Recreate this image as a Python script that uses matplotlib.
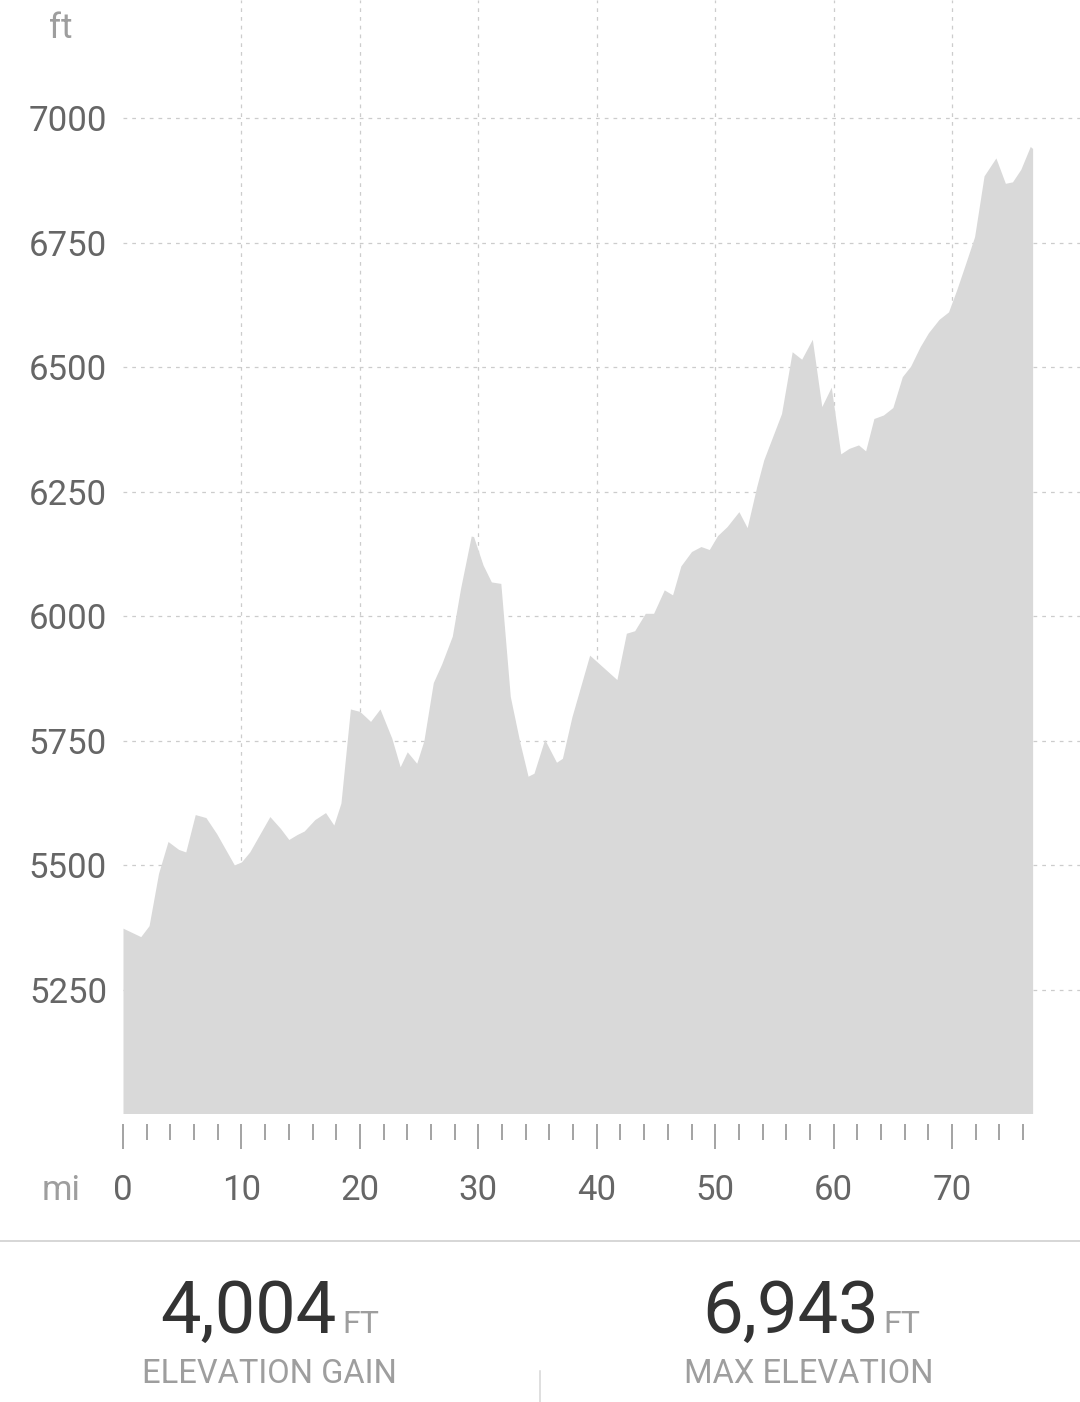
import matplotlib
matplotlib.use("Agg")
import matplotlib.pyplot as plt
from matplotlib.ticker import FixedLocator, NullFormatter

plt.rcParams['font.family'] = ['Roboto', 'DejaVu Sans']

miles = [0, 1.5, 2.2, 3.0, 3.8, 4.7, 5.3, 6.1, 7.0, 7.9, 9.4, 10.0, 10.7, 12.4, 13.3,
         14.0, 14.7, 15.3, 16.2, 17.1, 17.8, 18.4, 19.2, 20.0, 20.9, 21.7, 22.7, 23.4,
         24.0, 24.8, 25.4, 26.2, 26.9, 27.8, 28.5, 29.4, 29.6, 30.4, 31.1, 31.9, 32.7,
         33.5, 34.2, 34.7, 35.6, 36.6, 37.1, 37.9, 39.4, 41.7, 42.5, 43.2, 44.1, 44.8,
         45.7, 46.4, 47.1, 48.0, 48.8, 49.5, 50.2, 51.0, 52.0, 52.7, 53.5, 54.1, 55.6,
         56.5, 57.3, 58.2, 59.0, 59.8, 60.6, 61.3, 62.1, 62.7, 63.4, 64.2, 65.0, 65.8,
         66.5, 67.3, 68.0, 68.9, 69.7, 70.4, 71.1, 71.9, 72.7, 73.7, 74.5, 75.1, 75.8,
         76.6, 76.8]
elevation_ft = [5374, 5357, 5379, 5484, 5548, 5532, 5527, 5602, 5596, 5564, 5501, 5507,
                5527, 5598, 5574, 5552, 5562, 5569, 5592, 5606, 5581, 5625, 5814, 5809,
                5789, 5814, 5755, 5698, 5728, 5705, 5750, 5867, 5904, 5960, 6056, 6161,
                6160, 6103, 6069, 6066, 5839, 5748, 5679, 5685, 5753, 5707, 5715, 5798,
                5922, 5873, 5966, 5971, 6006, 6006, 6053, 6043, 6101, 6130, 6140, 6134,
                6162, 6180, 6210, 6178, 6260, 6314, 6407, 6531, 6516, 6556, 6421, 6460,
                6326, 6337, 6344, 6332, 6397, 6404, 6419, 6481, 6502, 6541, 6569, 6596,
                6611, 6656, 6705, 6762, 6884, 6920, 6869, 6872, 6897, 6943, 6939]

y_ticks = [5250, 5500, 5750, 6000, 6250, 6500, 6750, 7000]
x_major = [0, 10, 20, 30, 40, 50, 60, 70]
x_minor = [2, 4, 6, 8, 12, 14, 16, 18, 22, 24, 26, 28, 32, 34, 36, 38, 42, 44, 46, 48,
           52, 54, 56, 58, 62, 64, 66, 68, 72, 74, 76]

stat_gain = "4,004"
stat_max = "6,943"
stat_unit = "FT"
stat_gain_label = "ELEVATION GAIN"
stat_max_label = "MAX ELEVATION"

W, H = 1080, 1402
fig = plt.figure(figsize=(W / 100, H / 100), dpi=100)

def fx(px):
    return px / W

def fy(py):
    return 1 - py / H

ax = fig.add_axes([fx(123), fy(1113.5), 1 - fx(123), fy(0) - fy(1113.5)])
ax.set_xlim(0, 80.8)
ax.set_ylim(5002, 7237)

grid_kw = dict(color='#cccccc', lw=0.9, ls=(0, (3, 4)), zorder=1)
for v in x_major[1:]:
    ax.axvline(v, **grid_kw)
for v in y_ticks:
    ax.axhline(v, **grid_kw)

ax.fill_between(miles, elevation_ft, 5002, color='#d9d9d9', lw=0, zorder=2)

for s in ax.spines.values():
    s.set_visible(False)
ax.spines['bottom'].set_position(('outward', 7.2))

ax.yaxis.set_major_locator(FixedLocator(y_ticks))
ax.tick_params(axis='y', length=0, pad=11.5, labelsize=25, labelcolor='#666666')

ax.xaxis.set_major_locator(FixedLocator(x_major))
ax.xaxis.set_minor_locator(FixedLocator(x_minor))
ax.xaxis.set_minor_formatter(NullFormatter())
ax.tick_params(axis='x', which='major', direction='out', length=18, width=1.1,
               color='#8a8a8a', pad=18, labelsize=25, labelcolor='#666666')
ax.tick_params(axis='x', which='minor', direction='out', length=11.5, width=1.1,
               color='#8a8a8a')

fig.text(fx(61), fy(38), "ft", fontsize=25, color='#9e9e9e', ha='center', va='baseline')
fig.text(fx(61), fy(1200), "mi", fontsize=25, color='#9e9e9e', ha='center', va='baseline')

# bottom stats panel
fig.add_artist(plt.Line2D([0, 1], [fy(1240.5), fy(1240.5)], color='#d6d6d6', lw=1.4))
fig.add_artist(plt.Line2D([fx(539.5), fx(539.5)], [fy(1371), fy(1402)], color='#d6d6d6', lw=1.1))

fig.text(fx(160), fy(1333), stat_gain, fontsize=52, color='#333333', ha='left', va='baseline')
fig.text(fx(342), fy(1333), stat_unit, fontsize=23, color='#9e9e9e', ha='left', va='baseline')
fig.text(fx(269), fy(1383), stat_gain_label, fontsize=23.5, color='#9e9e9e', ha='center', va='baseline')

fig.text(fx(702), fy(1333), stat_max, fontsize=52, color='#333333', ha='left', va='baseline')
fig.text(fx(883), fy(1333), stat_unit, fontsize=23, color='#9e9e9e', ha='left', va='baseline')
fig.text(fx(809), fy(1383), stat_max_label, fontsize=23.5, color='#9e9e9e', ha='center', va='baseline')

fig.savefig("out.png", dpi=100)
